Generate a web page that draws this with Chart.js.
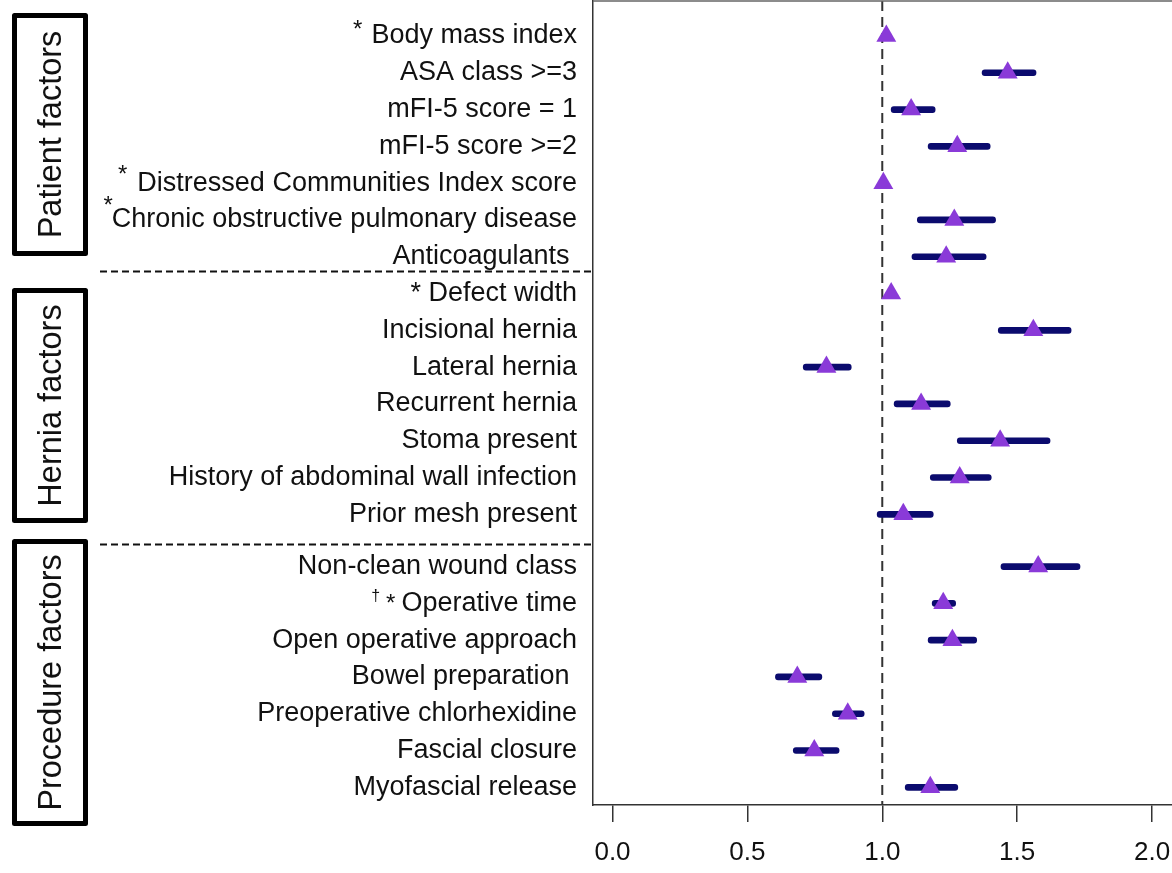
<!DOCTYPE html>
<html>
<head>
<meta charset="utf-8">
<script src="https://cdn.jsdelivr.net/npm/chart.js@4.4.1/dist/chart.umd.min.js"></script>
<style>
  html, body { margin: 0; padding: 0; background: #fff; }
  #wrap { width: 1172px; height: 873px; }
</style>
</head>
<body>
<div id="wrap"><canvas id="forest" width="1172" height="873"></canvas></div>
<script>
// data
const labels = [
  "Body mass index", "ASA class >=3", "mFI-5 score = 1", "mFI-5 score >=2",
  "Distressed Communities Index score", "Chronic obstructive pulmonary disease", "Anticoagulants ",
  "* Defect width", "Incisional hernia", "Lateral hernia", "Recurrent hernia",
  "Stoma present", "History of abdominal wall infection", "Prior mesh present",
  "Non-clean wound class", "Operative time", "Open operative approach", "Bowel preparation ",
  "Preoperative chlorhexidine", "Fascial closure", "Myofascial release"
];
const footnotes = ["*", "", "", "", "*", "*", "", "", "", "", "", "", "", "", "", "† *", "", "", "", "", ""];
const sections = ["Patient factors", "Hernia factors", "Procedure factors"];
const sectionOf = [0,0,0,0,0,0,0, 1,1,1,1,1,1,1, 2,2,2,2,2,2,2];
const oddsRatio = [1.015, 1.465, 1.107, 1.278, 1.004, 1.267, 1.237,
                   1.033, 1.56, 0.793, 1.144, 1.437, 1.287, 1.078,
                   1.578, 1.226, 1.26, 0.685, 0.872, 0.748, 1.178];
const ciLower   = [1.010, 1.37, 1.033, 1.17, 1.002, 1.13, 1.11,
                   1.030, 1.43, 0.707, 1.044, 1.278, 1.178, 0.981,
                   1.44, 1.185, 1.17, 0.604, 0.815, 0.67, 1.085];
const ciUpper   = [1.020, 1.57, 1.196, 1.40, 1.006, 1.42, 1.385,
                   1.036, 1.70, 0.885, 1.252, 1.622, 1.404, 1.189,
                   1.733, 1.272, 1.35, 0.776, 0.933, 0.84, 1.28];
const xTicks = [0, 0.5, 1, 1.5, 2];

// row positions: one unit per row, small extra gap before the procedure block
const rowPos = labels.map((_, i) => i + (sectionOf[i] === 2 ? 0.42 : 0));
const sepPos = [6.4, 13.8];

const FONT = "'Liberation Sans', Arial, sans-serif";
const LABEL_SIZE = 27;
const LABEL_PAD = 16;

const decor = {
  id: "decor",
  beforeDatasetsDraw(chart) {
    const { ctx, chartArea: a, scales: { x } } = chart;
    ctx.save();
    // reference line at 1
    ctx.strokeStyle = "#333";
    ctx.lineWidth = 2;
    ctx.setLineDash([10, 6]);
    ctx.beginPath();
    ctx.moveTo(x.getPixelForValue(1), a.top);
    ctx.lineTo(x.getPixelForValue(1), a.bottom);
    ctx.stroke();
    // top of the frame
    ctx.setLineDash([]);
    ctx.strokeStyle = "#666";
    ctx.lineWidth = 1.5;
    ctx.beginPath();
    ctx.moveTo(a.left, a.top);
    ctx.lineTo(a.right, a.top);
    ctx.stroke();
    ctx.restore();
  },
  afterDraw(chart) {
    const { ctx, chartArea: a, scales: { y } } = chart;
    ctx.save();
    // section separators
    ctx.strokeStyle = "#111";
    ctx.lineWidth = 2;
    ctx.setLineDash([7, 4]);
    sepPos.forEach(v => {
      const py = Math.round(y.getPixelForValue(v)) + 0.5;
      ctx.beginPath();
      ctx.moveTo(100, py);
      ctx.lineTo(a.left, py);
      ctx.stroke();
    });
    ctx.setLineDash([]);

    // section boxes
    const boxes = [[13, 256], [288, 523], [539, 826]];
    ctx.lineWidth = 5;
    ctx.lineJoin = "round";
    ctx.strokeStyle = "#000";
    ctx.fillStyle = "#111";
    ctx.font = "32.5px " + FONT;
    ctx.textAlign = "center";
    ctx.textBaseline = "middle";
    boxes.forEach(([t, b], k) => {
      ctx.strokeRect(14.5, t + 2.5, 71, b - t - 5);
      ctx.save();
      ctx.translate(52, (t + b) / 2);
      ctx.rotate(-Math.PI / 2);
      ctx.fillText(sections[k], 0, 0);
      ctx.restore();
    });

    // raised footnote symbols before some labels
    const nudge = { 0: { dx: -9, dy: -13 }, 4: { dx: -10, dy: -15 }, 5: { dx: 1, dy: -21 }, 15: { dx: -6, dy: -6 } };
    ctx.textAlign = "right";
    ctx.textBaseline = "alphabetic";
    footnotes.forEach((f, i) => {
      if (!f) return;
      ctx.font = LABEL_SIZE + "px " + FONT;
      const left = a.left - LABEL_PAD - ctx.measureText(labels[i]).width;
      const py = y.getPixelForValue(rowPos[i]);
      const n = nudge[i] || { dx: -8, dy: -12 };
      const parts = f.split(" ");
      let xr = left + n.dx;
      for (let p = parts.length - 1; p >= 0; p--) {
        const s = parts[p];
        if (s === "*") {
          ctx.font = "24px " + FONT;
          ctx.fillText(s, xr, py + n.dy + 13.8);
          xr -= ctx.measureText(s).width + 6;
        } else {
          ctx.font = "16px " + FONT;
          ctx.fillText(s, xr, py + n.dy + 4);
          xr -= ctx.measureText(s).width + 4;
        }
      }
    });
    ctx.restore();
  }
};

new Chart(document.getElementById("forest"), {
  data: {
    datasets: [
      {
        type: "scatter",
        order: 1,
        data: oddsRatio.map((v, i) => ({ x: v, y: rowPos[i] })),
        pointStyle: "triangle",
        pointRadius: 11.5,
        pointBackgroundColor: "#8a3ad8",
        pointBorderWidth: 0
      },
      {
        type: "bar",
        order: 2,
        indexAxis: "y",
        data: ciLower.map((lo, i) => ({ x: [lo, ciUpper[i]], y: rowPos[i] })),
        backgroundColor: "#0b0b6e",
        barThickness: 6,
        borderRadius: 3,
        borderSkipped: false
      }
    ]
  },
  options: {
    responsive: false,
    animation: false,
    devicePixelRatio: 1,
    layout: { autoPadding: false, padding: { top: 1, right: 0, bottom: 0, left: 0 } },
    plugins: { legend: { display: false }, tooltip: { enabled: false } },
    scales: {
      x: {
        type: "linear",
        position: "bottom",
        offset: false,
        min: -0.0723,
        max: 2.074,
        afterBuildTicks: s => { s.ticks = xTicks.map(v => ({ value: v })); },
        afterFit: s => { s.height = 68; s.paddingLeft = 0; s.paddingRight = 0; },
        grid: { offset: false, drawOnChartArea: false, drawTicks: true, tickLength: 17, color: "#333", lineWidth: 1.5 },
        border: { display: true, color: "#333", width: 1.5 },
        ticks: {
          padding: 15,
          color: "#111",
          maxRotation: 0,
          font: { family: FONT, size: 26 },
          callback: v => v.toFixed(1)
        }
      },
      y: {
        type: "linear",
        position: "left",
        reverse: true,
        offset: false,
        min: -0.95,
        max: 20.9,
        afterBuildTicks: s => { s.ticks = rowPos.map(v => ({ value: v })); },
        afterFit: s => { s.width = 593; s.paddingTop = 0; s.paddingBottom = 0; },
        grid: { offset: false, display: false, drawTicks: false },
        border: { display: true, color: "#333", width: 1.5 },
        ticks: {
          autoSkip: false,
          padding: LABEL_PAD,
          color: "#111",
          font: { family: FONT, size: LABEL_SIZE },
          callback: (v, i) => labels[i]
        }
      }
    }
  },
  plugins: [decor]
});
</script>
</body>
</html>
